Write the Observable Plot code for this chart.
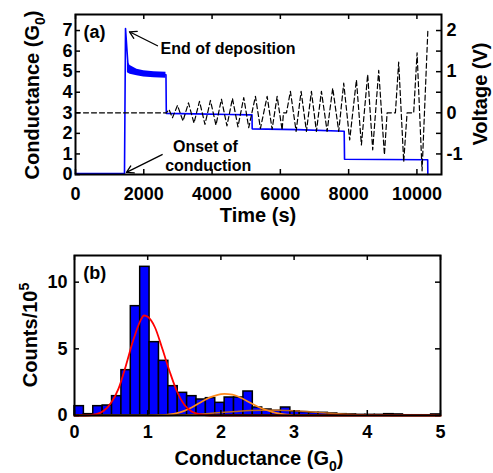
<!DOCTYPE html>
<html><head><meta charset="utf-8">
<script src="https://cdn.jsdelivr.net/npm/d3@7"></script>
<script src="https://cdn.jsdelivr.net/npm/@observablehq/plot@0.6"></script>
<style>
body{margin:0;background:#fff;}
#wrap{position:relative;width:493px;height:473px;overflow:hidden;background:#fff;}
#wrap svg{position:absolute;left:0;}
</style></head><body><div id="wrap"></div>
<script>
// ---------- Panel (a) data ----------
const timeTicks = [0, 2000, 4000, 6000, 8000, 10000];
const condTicks = [0, 1, 2, 3, 4, 5, 6, 7];
const voltTickLabels = [-1, 0, 1, 2];
const voltMinorTicks = [-1, -0.5, 0, 0.5, 1, 1.5, 2];

// conductance trace (G0)
const condTime  = [0, 1435, 1465, 1540, 1800, 2200, 2650, 2660, 3500, 4500, 5170, 5175, 6500, 7870, 7880, 9000, 10315, 10320];
const condValue = [0.05, 0.05, 7.1, 5.25, 5.0, 4.9, 4.85, 2.97, 2.95, 2.92, 2.9, 2.22, 2.18, 2.1, 0.74, 0.73, 0.72, 0.0];
// noisy band after deposition
const bandTime  = [1520, 1600, 1800, 2000, 2300, 2650];
const bandUpper = [5.5, 5.3, 5.12, 5.05, 5.0, 4.97];
const bandLower = [4.95, 4.88, 4.8, 4.74, 4.7, 4.68];

// voltage trace (V)
const voltTime  = [0, 2664, 2738, 2840, 2987, 3148, 3309, 3470, 3631, 3792, 3953, 4114, 4275, 4436, 4597, 4758, 4928, 5074, 5270, 5417, 5613, 5759, 5906, 6052, 6091, 6179, 6295, 6462, 6608, 6764, 6910, 7056, 7203, 7370, 7534, 7710, 7856, 8031, 8228, 8374, 8558, 8705, 8881, 9048, 9127, 9370, 9466, 9613, 9712, 9905, 10005, 10151, 10321];
const voltValue = [0, 0, 0.08, -0.12, 0.18, -0.2, 0.24, -0.25, 0.28, -0.28, 0.3, -0.3, 0.33, -0.32, 0.35, -0.34, 0.37, -0.36, 0.4, -0.38, 0.4, -0.4, 0.4, -0.42, 0, 0, 0.52, -0.45, 0.52, -0.45, 0.52, -0.45, 0.52, -0.45, 0.6, -0.45, 0.72, -0.66, 0.8, -0.78, 0.93, -0.9, 1.03, -1.02, 0, 0, 1.23, -1.19, 0, 0, 1.46, -1.41, 2.02];

// annotations (data units)
const endNoteText = ["End of deposition"];
const endNoteTime = [2489];
const endNoteCond = [6.12];
const onsetNoteText = ["Onset of", "conduction"];
const onsetNoteTime = [3806, 3888];
const onsetNoteCond = [1.36, 0.44];
const arrowFromT = [2401, 2538];
const arrowFromC = [6.26, 0.97];
const arrowToT   = [1581, 1493];
const arrowToC   = [6.94, 0.1];

// ---------- Panel (b) data ----------
const condBinTicks = [0, 1, 2, 3, 4, 5];
const countTicks = [0, 5, 10];
const binWidth = 5 / 39;
const histCounts = [0.7, 0.1, 0.7, 0.75, 1.45, 3.4, 8.2, 11.15, 5.5, 4.1, 2.2, 1.7, 1.45, 1.2, 1.3, 0.95, 1.35, 1.35, 1.8, 0.6, 0.45, 0.35, 0.6, 0.3, 0.25, 0.2, 0.2, 0.15, 0.1, 0.08, 0.05, 0.05, 0.05, 0.1, 0.08, 0.02, 0.02, 0.02, 0.08];
const redG = [0, 0.1, 0.2, 0.3, 0.4, 0.5, 0.6, 0.7, 0.8, 0.9, 0.95, 1.0, 1.1, 1.2, 1.3, 1.4, 1.5, 1.6, 1.7, 1.8, 1.9, 2.0, 3.0, 4.0, 5.0];
const redC = [0, 0, 0.02, 0.1, 0.35, 0.95, 2.0, 3.7, 5.6, 7.1, 7.5, 7.4, 6.6, 5.0, 3.3, 1.8, 0.8, 0.3, 0.1, 0.02, 0, 0, 0, 0, 0];
const orangeG = [0, 1.0, 1.2, 1.3, 1.4, 1.5, 1.6, 1.7, 1.8, 1.9, 2.0, 2.05, 2.1, 2.2, 2.3, 2.4, 2.5, 2.6, 2.7, 2.8, 2.9, 3.0, 3.2, 4.0, 5.0];
const orangeC = [0, 0, 0.03, 0.08, 0.18, 0.35, 0.6, 0.92, 1.22, 1.45, 1.6, 1.62, 1.6, 1.5, 1.25, 0.95, 0.68, 0.45, 0.27, 0.14, 0.06, 0.02, 0, 0, 0];
const brownG = [0, 1.2, 1.4, 1.6, 1.8, 2.0, 2.2, 2.4, 2.6, 2.8, 3.0, 3.2, 3.4, 3.6, 3.8, 4.0, 4.3, 4.6, 5.0];
const brownC = [0, 0, 0.02, 0.06, 0.13, 0.22, 0.3, 0.37, 0.4, 0.39, 0.35, 0.28, 0.2, 0.13, 0.07, 0.03, 0.01, 0, 0];

// ---------- layout ----------
const FONT = '"Liberation Sans", Arial, Helvetica, sans-serif';
const W = 493;
const timeDomain = [0, 10720];
const condDomain = [0, 7.78];
const voltDomain = [(condDomain[0] - 3) / 2, (condDomain[1] - 3) / 2];
const aM = {marginLeft: 75, marginRight: 52, marginTop: 14, marginBottom: 56};
const aInnerW = W - aM.marginLeft - aM.marginRight, aInnerH = 230 - aM.marginTop - aM.marginBottom;
const TICK = 5;
const timeTickLen = TICK * (timeDomain[1] - timeDomain[0]) / aInnerW;
const condTickLen = TICK * (condDomain[1] - condDomain[0]) / aInnerH;
const baseStyle = {fontFamily: FONT, fontSize: "18px", fontWeight: "bold", background: "transparent", color: "black", overflow: "visible"};

function addLabel(svg, x, y, rotate, size, parts) {
  const t = d3.select(svg).append("text")
    .attr("transform", `translate(${x},${y}) rotate(${rotate})`)
    .attr("text-anchor", "middle").attr("font-family", FONT)
    .attr("font-size", size).attr("font-weight", "bold").attr("fill", "black");
  let shift = 0;
  parts.forEach(p => {
    const ts = t.append("tspan").text(p.text);
    const target = p.sub ? size * 0.3 : p.sup ? -size * 0.4 : 0;
    if (target !== shift) { ts.attr("dy", target - shift); shift = target; }
    if (p.sub || p.sup) ts.attr("font-size", size * 0.7);
  });
}

const condPlot = Plot.plot({
  width: W, height: 230, ...aM, style: baseStyle,
  x: {domain: timeDomain, ticks: timeTicks, tickSize: 0, tickPadding: 13, tickFormat: d => String(d), label: null},
  y: {domain: condDomain, ticks: condTicks, tickSize: 0, tickPadding: 3, tickFormat: d => String(d), label: null},
  marks: [
    Plot.areaY(bandTime, {x: bandTime, y1: bandLower, y2: bandUpper, fill: "#0000ff"}),
    Plot.line(condTime, {x: condTime, y: condValue, stroke: "#0000ff", strokeWidth: 1.6}),
    Plot.ruleX(timeTicks, {y1: condDomain[0], y2: condDomain[0] + condTickLen, stroke: "black", strokeWidth: 1.5}),
    Plot.ruleX(timeTicks, {y1: condDomain[1], y2: condDomain[1] - condTickLen, stroke: "black", strokeWidth: 1.5}),
    Plot.ruleY(condTicks, {x1: timeDomain[0], x2: timeDomain[0] + timeTickLen, stroke: "black", strokeWidth: 1.5}),
    Plot.text(endNoteText, {x: endNoteTime, y: endNoteCond, text: d => d, textAnchor: "start", fontSize: 16, fontWeight: "bold", fill: "black"}),
    Plot.text(onsetNoteText, {x: onsetNoteTime, y: onsetNoteCond, text: d => d, textAnchor: "middle", fontSize: 16, fontWeight: "bold", fill: "black"}),
    Plot.arrow(arrowFromT, {x1: arrowFromT, y1: arrowFromC, x2: arrowToT, y2: arrowToC, stroke: "black", strokeWidth: 1.3, headLength: 9, inset: 0}),
    Plot.text(["(a)"], {x: [234], y: [6.94], text: d => d, textAnchor: "start", fontSize: 18, fontWeight: "bold", fill: "black"})
  ]
});

const voltPlot = Plot.plot({
  width: W, height: 230, ...aM, style: baseStyle,
  x: {domain: timeDomain, axis: null},
  y: {domain: voltDomain, axis: "right", ticks: voltTickLabels, tickSize: 0, tickPadding: 5, tickFormat: d => String(d), label: null},
  marks: [
    Plot.line(voltTime, {x: voltTime, y: voltValue, stroke: "black", strokeWidth: 1.2, strokeDasharray: "5,3"}),
    Plot.ruleY(voltMinorTicks, {x1: timeDomain[1], x2: timeDomain[1] - timeTickLen, stroke: "black", strokeWidth: 1.5}),
    Plot.frame({stroke: "black", strokeWidth: 2})
  ]
});

// panel (b)
const bM = {marginLeft: 74, marginRight: 53, marginTop: 25, marginBottom: 58};
const gDomain = [0, 5], cDomain = [0, 12];
const bInnerW = W - bM.marginLeft - bM.marginRight, bInnerH = 243 - bM.marginTop - bM.marginBottom;
const gTickLen = TICK * (gDomain[1] - gDomain[0]) / bInnerW;
const cTickLen = TICK * (cDomain[1] - cDomain[0]) / bInnerH;

const histPlot = Plot.plot({
  width: W, height: 243, ...bM, style: baseStyle,
  x: {domain: gDomain, ticks: condBinTicks, tickSize: 0, tickPadding: 10, tickFormat: d => String(d), label: null},
  y: {domain: cDomain, ticks: countTicks, tickSize: 0, tickPadding: 7, tickFormat: d => String(d), label: null},
  marks: [
    Plot.rectY(histCounts, {x1: (d, i) => i * binWidth, x2: (d, i) => (i + 1) * binWidth, y1: 0, y2: d => d, fill: "#0000ff", stroke: "black", strokeWidth: 1.5}),
    Plot.line(brownG, {x: brownG, y: brownC, stroke: "#c0661e", strokeWidth: 1.5, curve: "monotone-x"}),
    Plot.line(orangeG, {x: orangeG, y: orangeC, stroke: "#ff8a1c", strokeWidth: 1.7, curve: "monotone-x"}),
    Plot.line(redG, {x: redG, y: redC, stroke: "#ff0000", strokeWidth: 1.8, curve: "monotone-x"}),
    Plot.ruleX(condBinTicks, {y1: cDomain[0], y2: cDomain[0] + cTickLen, stroke: "black", strokeWidth: 1.5}),
    Plot.ruleX(condBinTicks, {y1: cDomain[1], y2: cDomain[1] - cTickLen, stroke: "black", strokeWidth: 1.5}),
    Plot.ruleY(countTicks, {x1: gDomain[0], x2: gDomain[0] + gTickLen, stroke: "black", strokeWidth: 1.5}),
    Plot.ruleY(countTicks, {x1: gDomain[1], x2: gDomain[1] - gTickLen, stroke: "black", strokeWidth: 1.5}),
    Plot.text(["(b)"], {x: [0.12], y: [10.65], text: d => d, textAnchor: "start", fontSize: 18, fontWeight: "bold", fill: "black"}),
    Plot.frame({stroke: "black", strokeWidth: 2})
  ]
});

addLabel(condPlot, 39, 95, -90, 20, [{text: "Conductance (G"}, {text: "0", sub: true}, {text: ")"}]);
addLabel(condPlot, 258, 222, 0, 20, [{text: "Time (s)"}]);
addLabel(voltPlot, 487, 94, -90, 20, [{text: "Voltage (V)"}]);
addLabel(histPlot, 37, 105, -90, 20, [{text: "Counts/10"}, {text: "5", sup: true}]);
addLabel(histPlot, 259, 235, 0, 20, [{text: "Conductance (G"}, {text: "0", sub: true}, {text: ")"}]);

const wrap = document.getElementById("wrap");
condPlot.style.top = "0px";
voltPlot.style.top = "0px";
histPlot.style.top = "230px";
wrap.appendChild(condPlot);
wrap.appendChild(voltPlot);
wrap.appendChild(histPlot);
</script></body></html>
